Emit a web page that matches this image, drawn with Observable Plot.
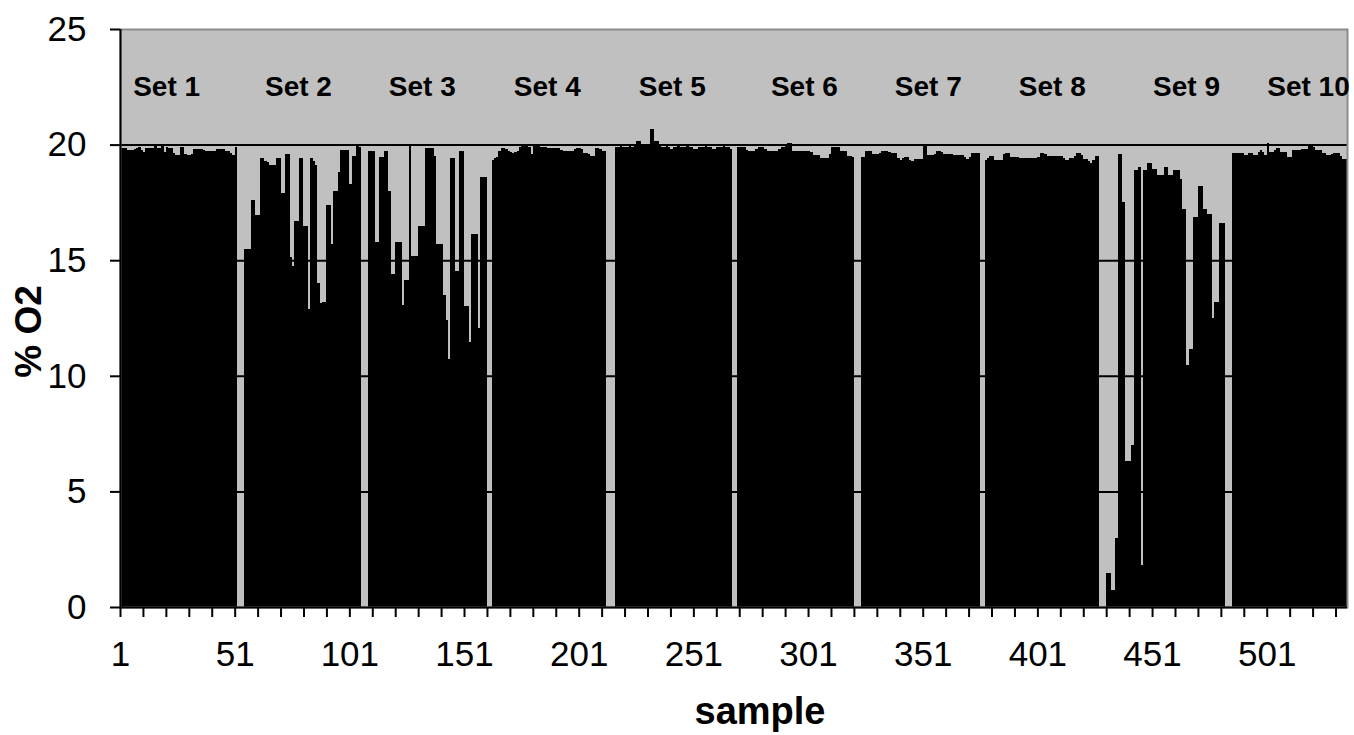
<!DOCTYPE html>
<html><head><meta charset="utf-8">
<script src="https://cdn.jsdelivr.net/npm/d3@7"></script>
<script src="https://cdn.jsdelivr.net/npm/@observablehq/plot@0.6"></script>
<style>html,body{margin:0;padding:0;background:#fff;}</style>
</head><body><div id="chart"></div>
<script>
const set1 = [19.86,19.86,19.86,19.78,19.78,19.78,19.8,19.86,19.9,19.75,19.7,19.86,19.86,19.86,19.86,19.93,19.86,19.86,19.97,19.7,19.9,19.86,19.86,19.64,19.57,19.57,19.9,19.9,19.6,19.57,19.57,19.6,19.81,19.81,19.81,19.81,19.75,19.71,19.71,19.71,19.71,19.71,19.81,19.81,19.81,19.81,19.71,19.71,19.65,19.57,19.9];
const set2 = [15.5,15.5,15.5,17.6,17.6,16.95,16.95,19.4,19.4,19.3,19.25,19.1,19.1,19.1,19.4,19.4,17.9,17.9,19.6,19.6,15.15,14.75,16.7,16.7,19.4,19.4,16.5,16.5,12.9,19.4,19.3,19.1,14.0,13.15,13.2,13.2,17.4,17.4,15.7,18.0,18.0,18.8,19.75,19.75,19.75,19.75,18.3,19.5,19.5,19.95,19.9];
const set3 = [19.73,19.73,19.73,15.8,15.8,19.45,19.45,19.73,19.73,18.0,14.4,14.4,15.77,15.77,15.77,13.05,14.15,14.15,20.0,15.2,15.2,15.2,16.47,16.47,16.47,19.86,19.86,19.86,19.86,19.5,15.68,15.68,15.68,13.5,12.4,10.74,19.4,19.4,14.54,14.54,19.73,19.73,13.0,13.0,11.46,16.15,16.15,16.15,12.08,18.6,18.6,18.6];
const set4 = [19.34,19.4,19.48,19.71,19.84,19.84,19.8,19.74,19.7,19.62,19.7,19.74,19.9,20.0,20.0,20.0,19.9,19.6,20.0,20.0,19.95,19.88,19.88,19.88,19.86,19.84,19.84,19.84,19.84,19.84,19.78,19.74,19.74,19.74,19.74,19.74,19.8,19.84,19.84,19.8,19.62,19.62,19.58,19.52,19.52,19.84,19.84,19.8,19.71,19.71];
const set5 = [19.88,19.88,19.95,19.88,19.88,19.88,19.95,19.88,20.0,20.17,20.17,20.03,20.03,20.03,20.03,20.69,20.69,20.17,20.17,19.95,19.88,19.88,19.95,19.88,19.8,19.88,19.88,19.95,19.88,19.88,19.88,19.95,19.88,19.88,19.82,19.82,19.88,19.88,19.88,19.95,19.88,19.88,19.82,19.82,19.88,19.88,19.88,19.95,19.88,19.88,19.82];
const set6 = [19.88,19.88,19.88,19.88,19.75,19.71,19.71,19.71,19.8,19.88,19.88,19.88,19.8,19.74,19.74,19.74,19.74,19.74,19.8,19.88,19.88,19.95,20.07,20.07,19.71,19.71,19.74,19.74,19.74,19.74,19.74,19.74,19.7,19.57,19.57,19.57,19.42,19.42,19.42,19.42,19.6,19.88,19.88,19.88,19.88,19.71,19.71,19.71,19.5,19.5,19.45];
const set7 = [19.45,19.45,19.74,19.74,19.74,19.6,19.6,19.6,19.65,19.74,19.74,19.74,19.7,19.64,19.64,19.64,19.4,19.35,19.4,19.45,19.45,19.35,19.28,19.39,19.39,19.39,19.39,20.03,20.0,19.57,19.57,19.57,19.6,19.74,19.74,19.7,19.6,19.6,19.6,19.6,19.56,19.54,19.54,19.54,19.54,19.45,19.39,19.45,19.64,19.64,19.64,19.64];
const set8 = [19.35,19.42,19.49,19.49,19.35,19.35,19.35,19.35,19.6,19.64,19.64,19.45,19.45,19.45,19.45,19.42,19.42,19.42,19.42,19.42,19.42,19.42,19.42,19.45,19.64,19.64,19.6,19.49,19.49,19.49,19.49,19.49,19.49,19.49,19.4,19.35,19.35,19.4,19.42,19.5,19.64,19.64,19.55,19.39,19.39,19.3,19.21,19.35,19.49,19.49];
const set9 = [1.46,1.46,0.75,0.75,3.0,19.6,19.6,17.5,6.3,6.3,6.3,7.0,18.9,18.9,19.05,1.8,18.9,18.9,19.2,19.2,18.95,18.95,18.7,18.7,18.7,19.05,19.05,18.7,18.7,18.9,18.9,18.9,18.5,17.2,17.2,10.45,11.15,11.15,16.85,16.85,18.2,18.2,17.2,17.2,17.0,17.0,12.5,13.2,13.2,16.6,16.6,16.6];
const set10 = [19.65,19.65,19.65,19.65,19.62,19.57,19.57,19.65,19.65,19.54,19.54,19.7,19.75,19.7,19.57,20.09,19.7,19.68,19.75,19.86,19.86,19.68,19.68,19.68,19.47,19.47,19.75,19.75,19.75,19.78,19.8,19.8,19.8,20.0,19.95,19.9,19.75,19.75,19.75,19.65,19.65,19.54,19.54,19.6,19.65,19.65,19.65,19.5,19.39,19.39];

const gapLengths = [3,3,2,4,2,3,2,3,3];
const setLabels = ["Set 1","Set 2","Set 3","Set 4","Set 5","Set 6","Set 7","Set 8","Set 9","Set 10"];
const setLabelSample = [20.1,77.6,131.6,186.1,240.6,298.2,352.2,406.3,464.8,518];
const yTicks = [0,5,10,15,20,25];
const gridValues = [5,10,15,20];
const xTickLabels = ["1","51","101","151","201","251","301","351","401","451","501"];

const sets = [set1,set2,set3,set4,set5,set6,set7,set8,set9,set10];
const samples = [];
let pos = 0;
sets.forEach((vals, s) => {
  vals.forEach(v => { samples.push({x1: pos, x2: pos + 1, y: v}); pos++; });
  if (s < gapLengths.length) {
    for (let k = 0; k < gapLengths[s]; k++) { samples.push({x1: pos, x2: pos + 1, y: 0}); pos++; }
  }
});
const total = pos;
const tickPositions = d3.range(0, total, 10);

const chart = Plot.plot({
  width: 1354, height: 735,
  marginLeft: 120, marginRight: 7, marginTop: 29, marginBottom: 128,
  style: {fontFamily: "'Liberation Sans', Arial, sans-serif", background: "white", color: "black"},
  x: {domain: [0, total]},
  y: {domain: [0, 25]},
  marks: [
    Plot.frame({fill: "#c0c0c0"}),
    Plot.ruleY(gridValues, {stroke: "black", strokeWidth: 2}),
    Plot.rectY(samples, {x1: "x1", x2: "x2", y: "y", fill: "black", inset: 0, shapeRendering: "crispEdges"}),
    Plot.frame({stroke: "#8c8c8c", strokeWidth: 2}),
    Plot.ruleX([0], {stroke: "black", strokeWidth: 2}),
    Plot.ruleY([0], {stroke: "black", strokeWidth: 2}),
    Plot.axisY({ticks: yTicks, tickSize: 10, tickPadding: 24, fontSize: 35, strokeWidth: 2, label: null}),
    Plot.axisX({ticks: tickPositions, tickSize: 10, tickPadding: 24, fontSize: 35, strokeWidth: 2, label: null,
      tickFormat: d => d % 50 === 0 ? xTickLabels[d / 50] : ""}),
    Plot.text(setLabels, {x: (d, i) => setLabelSample[i], y: 22.5, fontSize: 28, fontWeight: "bold", fill: "black"}),
    Plot.text(["sample"], {frameAnchor: "bottom", textAnchor: "middle", dx: 26, dy: 116, fontSize: 38, fontWeight: "bold", fill: "black"}),
    Plot.text(["% O2"], {frameAnchor: "left", textAnchor: "middle", dx: -91, dy: 13, rotate: -90, fontSize: 37, fontWeight: "bold", fill: "black"})
  ]
});
document.getElementById("chart").appendChild(chart);
</script>
</body></html>
